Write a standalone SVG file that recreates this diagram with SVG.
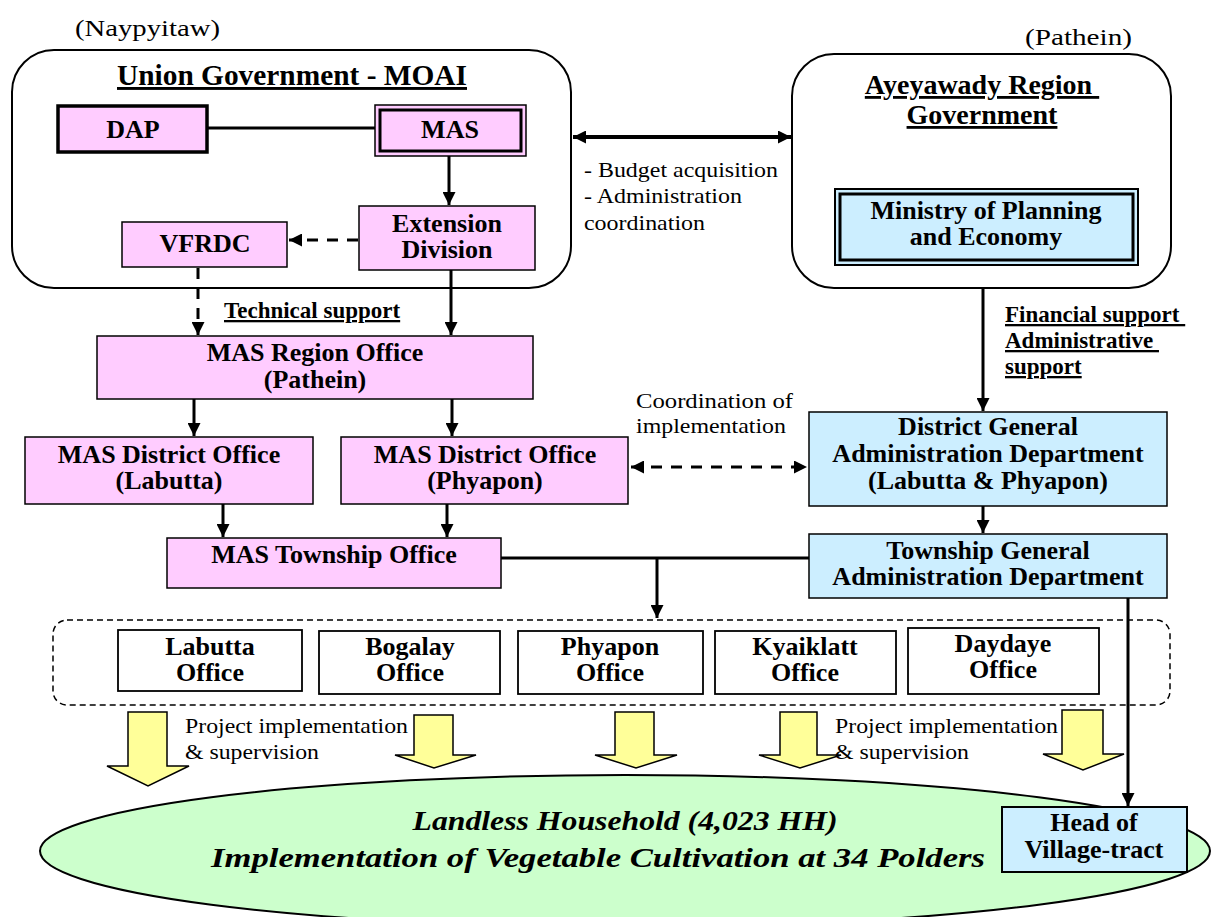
<svg xmlns="http://www.w3.org/2000/svg" width="1212" height="917" viewBox="0 0 1212 917" font-family="Liberation Serif">
  <style>
    .pink { fill: #ffccff; stroke: #000; stroke-width: 1.5; }
    .blue { fill: #cceeff; stroke: #000; stroke-width: 1.5; }
    .office { fill: #fff; stroke: #000; stroke-width: 1.8; }
    .group { fill: #fff; stroke: #000; stroke-width: 2; }
    .ln { stroke: #000; stroke-width: 3; fill: none; }
    .dash { stroke: #000; stroke-width: 3; fill: none; stroke-dasharray: 11 9; }
    .big { fill: #ffff99; stroke: #000; stroke-width: 1.5; stroke-linejoin: miter; }
  </style>
  <defs>
    <marker id="ah" viewBox="0 0 12 12" refX="12" refY="6" markerWidth="13" markerHeight="13" markerUnits="userSpaceOnUse" orient="auto-start-reverse">
      <path d="M0,0 L12,6 L0,12 z" fill="#000"/>
    </marker>
  </defs>

  <!-- location labels -->
  <g font-family="Liberation Serif" font-size="24">
    <text x="75" y="36" textLength="145" lengthAdjust="spacingAndGlyphs">(Naypyitaw)</text>
    <text x="1025" y="45" textLength="107" lengthAdjust="spacingAndGlyphs">(Pathein)</text>
  </g>

  <!-- target population -->
  <g id="landless" font-family="Liberation Serif" font-weight="bold" font-style="italic" font-size="28" text-anchor="middle">
    <ellipse cx="625" cy="851" rx="585" ry="76" fill="#ccffcc" stroke="#000" stroke-width="2"/>
    <text x="625" y="830" textLength="425" lengthAdjust="spacingAndGlyphs">Landless Household (4,023 HH)</text>
    <text x="598" y="867" textLength="774" lengthAdjust="spacingAndGlyphs">Implementation of Vegetable Cultivation at 34 Polders</text>
  </g>

  <!-- Union government -->
  <g id="union" font-family="Liberation Serif" font-weight="bold" font-size="29" text-anchor="middle">
    <rect x="12" y="50" width="559" height="238" rx="42" class="group"/>
    <text x="292" y="85" text-decoration="underline" textLength="350" lengthAdjust="spacingAndGlyphs">Union Government - MOAI</text>
  </g>
  <g id="dap" font-family="Liberation Serif" font-weight="bold" font-size="26" text-anchor="middle">
    <rect x="58" y="106" width="149" height="46" class="pink" style="stroke-width:3.5"/>
    <text x="133" y="138">DAP</text>
  </g>
  <g id="mas" font-family="Liberation Serif" font-weight="bold" font-size="26" text-anchor="middle">
    <rect x="375" y="105" width="151" height="51" class="pink"/>
    <rect x="380" y="110" width="141" height="41" fill="none" stroke="#000" stroke-width="3"/>
    <text x="450" y="138">MAS</text>
  </g>
  <g id="extension" font-family="Liberation Serif" font-weight="bold" font-size="26" text-anchor="middle">
    <rect x="359" y="206" width="176" height="64" class="pink"/>
    <text x="447" y="232">Extension</text>
    <text x="447" y="258">Division</text>
  </g>
  <g id="vfrdc" font-family="Liberation Serif" font-weight="bold" font-size="26" text-anchor="middle">
    <rect x="122" y="222" width="165" height="45" class="pink"/>
    <text x="205" y="252">VFRDC</text>
  </g>

  <!-- Region government -->
  <g id="region-gov" font-family="Liberation Serif" font-weight="bold" font-size="28" text-anchor="middle">
    <rect x="792" y="54" width="379" height="234" rx="42" class="group"/>
    <text x="982" y="94" text-decoration="underline" xml:space="preserve">Ayeyawady Region </text>
    <text x="982" y="124" text-decoration="underline">Government</text>
  </g>
  <g id="planning" font-family="Liberation Serif" font-weight="bold" font-size="26" text-anchor="middle">
    <rect x="835" y="189" width="303" height="76" class="blue" style="stroke-width:2"/>
    <rect x="840" y="194" width="293" height="66" fill="none" stroke="#000" stroke-width="3"/>
    <text x="986" y="219">Ministry of Planning</text>
    <text x="986" y="245">and Economy</text>
  </g>

  <!-- MAS field offices -->
  <g id="mas-region" font-family="Liberation Serif" font-weight="bold" font-size="26" text-anchor="middle">
    <rect x="97" y="336" width="436" height="63" class="pink"/>
    <text x="315" y="361">MAS Region Office</text>
    <text x="315" y="388">(Pathein)</text>
  </g>
  <g id="mas-district-labutta" font-family="Liberation Serif" font-weight="bold" font-size="26" text-anchor="middle">
    <rect x="25" y="437" width="288" height="67" class="pink"/>
    <text x="169" y="463">MAS District Office</text>
    <text x="169" y="489">(Labutta)</text>
  </g>
  <g id="mas-district-phyapon" font-family="Liberation Serif" font-weight="bold" font-size="26" text-anchor="middle">
    <rect x="341" y="437" width="287" height="67" class="pink"/>
    <text x="485" y="463">MAS District Office</text>
    <text x="485" y="489">(Phyapon)</text>
  </g>
  <g id="mas-township" font-family="Liberation Serif" font-weight="bold" font-size="26" text-anchor="middle">
    <rect x="167" y="538" width="334" height="50" class="pink"/>
    <text x="334" y="563">MAS Township Office</text>
  </g>

  <!-- General Administration Department -->
  <g id="district-gad" font-family="Liberation Serif" font-weight="bold" font-size="26" text-anchor="middle">
    <rect x="809" y="412" width="358" height="94" class="blue"/>
    <text x="988" y="435">District General</text>
    <text x="988" y="462">Administration Department</text>
    <text x="988" y="489">(Labutta &amp; Phyapon)</text>
  </g>
  <g id="township-gad" font-family="Liberation Serif" font-weight="bold" font-size="26" text-anchor="middle">
    <rect x="809" y="534" width="358" height="64" class="blue"/>
    <text x="988" y="559">Township General</text>
    <text x="988" y="585">Administration Department</text>
  </g>

  <!-- township offices -->
  <g id="offices">
    <rect x="53" y="620" width="1117" height="85" rx="14" fill="none" stroke="#000" stroke-width="1.5" stroke-dasharray="6 4"/>
  </g>
  <g id="office-labutta" font-family="Liberation Serif" font-weight="bold" font-size="26" text-anchor="middle">
    <rect x="118" y="630" width="184" height="61" class="office"/>
    <text x="210" y="655">Labutta</text>
    <text x="210" y="681">Office</text>
  </g>
  <g id="office-bogalay" font-family="Liberation Serif" font-weight="bold" font-size="26" text-anchor="middle">
    <rect x="319" y="631" width="181" height="63" class="office"/>
    <text x="410" y="655">Bogalay</text>
    <text x="410" y="681">Office</text>
  </g>
  <g id="office-phyapon" font-family="Liberation Serif" font-weight="bold" font-size="26" text-anchor="middle">
    <rect x="518" y="631" width="185" height="63" class="office"/>
    <text x="610" y="655">Phyapon</text>
    <text x="610" y="681">Office</text>
  </g>
  <g id="office-kyaiklatt" font-family="Liberation Serif" font-weight="bold" font-size="26" text-anchor="middle">
    <rect x="715" y="631" width="181" height="63" class="office"/>
    <text x="805" y="655">Kyaiklatt</text>
    <text x="805" y="681">Office</text>
  </g>
  <g id="office-daydaye" font-family="Liberation Serif" font-weight="bold" font-size="26" text-anchor="middle">
    <rect x="908" y="628" width="191" height="66" class="office"/>
    <text x="1003" y="652">Daydaye</text>
    <text x="1003" y="678">Office</text>
  </g>

  <g id="village-head" font-family="Liberation Serif" font-weight="bold" font-size="26" text-anchor="middle">
    <rect x="1002" y="807" width="185" height="65" class="blue" style="stroke-width:2"/>
    <text x="1094" y="831">Head of</text>
    <text x="1094" y="858">Village-tract</text>
  </g>

  <!-- connectors -->
  <g id="connectors">
    <line x1="207" y1="128" x2="375" y2="128" class="ln"/>
    <line x1="449" y1="156" x2="449" y2="205" class="ln" marker-end="url(#ah)"/>
    <line x1="358" y1="240" x2="289" y2="240" class="dash" marker-end="url(#ah)"/>
    <line x1="198" y1="268" x2="198" y2="335" class="dash" marker-end="url(#ah)"/>
    <line x1="451" y1="270" x2="451" y2="335" class="ln" marker-end="url(#ah)"/>
    <line x1="194" y1="399" x2="194" y2="436" class="ln" marker-end="url(#ah)"/>
    <line x1="452" y1="399" x2="452" y2="436" class="ln" marker-end="url(#ah)"/>
    <line x1="223" y1="504" x2="223" y2="537" class="ln" marker-end="url(#ah)"/>
    <line x1="447" y1="504" x2="447" y2="537" class="ln" marker-end="url(#ah)"/>
    <line x1="501" y1="558" x2="809" y2="558" class="ln"/>
    <line x1="657" y1="558" x2="657" y2="618" class="ln" marker-end="url(#ah)"/>
    <line x1="573" y1="137" x2="791" y2="137" stroke="#000" stroke-width="4" marker-start="url(#ah)" marker-end="url(#ah)"/>
    <line x1="983" y1="288" x2="983" y2="411" class="ln" marker-end="url(#ah)"/>
    <line x1="631" y1="467" x2="807" y2="467" class="dash" marker-start="url(#ah)" marker-end="url(#ah)"/>
    <line x1="983" y1="506" x2="983" y2="533" class="ln" marker-end="url(#ah)"/>
    <line x1="1128" y1="598" x2="1128" y2="806" class="ln" marker-end="url(#ah)"/>
    <!-- block arrows to households -->
    <polygon class="big" points="128,712 167,712 167,766 189,766 148,786 107,766 128,766"/>
    <polygon class="big" points="414,715 453,715 453,755 476,755 434,768 395,755 414,755"/>
    <polygon class="big" points="615,712 654,712 654,755 677,755 636,768 595,755 615,755"/>
    <polygon class="big" points="780,712 817,712 817,755 841,755 800,768 759,755 780,755"/>
    <polygon class="big" points="1062,710 1103,710 1103,754 1124,754 1083,770 1043,754 1062,754"/>
  </g>

  <!-- connector labels -->
  <g font-family="Liberation Serif" font-weight="bold" font-size="23" text-decoration="underline">
    <text x="224" y="318">Technical support</text>
    <text x="1005" y="322" xml:space="preserve">Financial support </text>
    <text x="1005" y="348" xml:space="preserve">Administrative </text>
    <text x="1005" y="374">support</text>
  </g>
  <g font-family="Liberation Serif" font-size="22">
    <text x="584" y="177" textLength="194" lengthAdjust="spacingAndGlyphs">- Budget acquisition</text>
    <text x="584" y="203" textLength="158" lengthAdjust="spacingAndGlyphs">- Administration</text>
    <text x="584" y="230" textLength="121" lengthAdjust="spacingAndGlyphs">coordination</text>
    <text x="636" y="408" textLength="157" lengthAdjust="spacingAndGlyphs">Coordination  of</text>
    <text x="636" y="433" textLength="150" lengthAdjust="spacingAndGlyphs">implementation</text>
    <text x="185" y="733" textLength="223" lengthAdjust="spacingAndGlyphs">Project implementation</text>
    <text x="185" y="759" textLength="134" lengthAdjust="spacingAndGlyphs">&amp; supervision</text>
    <text x="835" y="733" textLength="223" lengthAdjust="spacingAndGlyphs">Project implementation</text>
    <text x="835" y="759" textLength="134" lengthAdjust="spacingAndGlyphs">&amp; supervision</text>
  </g>
</svg>
